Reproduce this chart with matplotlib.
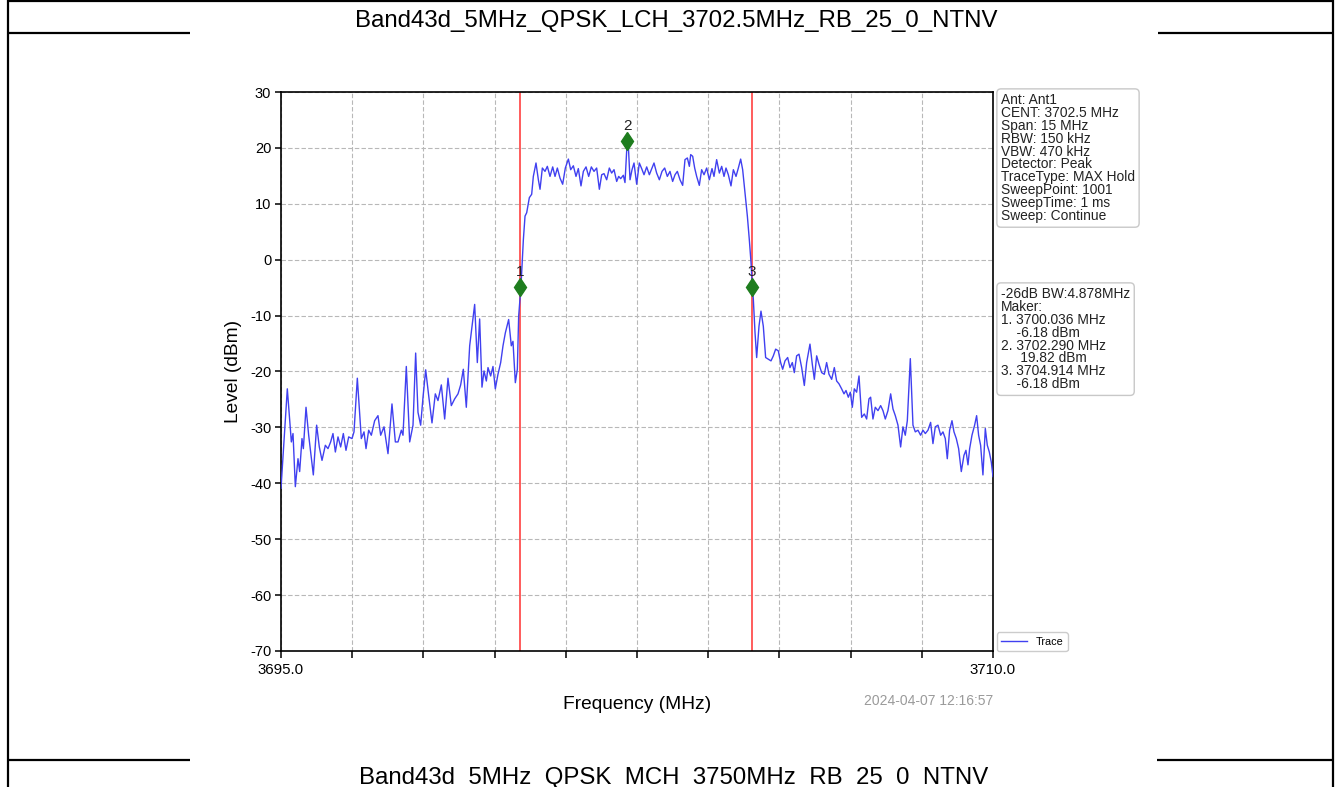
import matplotlib
matplotlib.use("Agg")
import matplotlib.pyplot as plt
from matplotlib.lines import Line2D

plt.rcParams['font.family'] = ['Liberation Sans', 'DejaVu Sans']
plt.rcParams['axes.unicode_minus'] = False

# ---------------- data ----------------
title_top = "Band43d_5MHz_QPSK_LCH_3702.5MHz_RB_25_0_NTNV"
title_bottom = "Band43d_5MHz_QPSK_MCH_3750MHz_RB_25_0_NTNV"

# lower adjacent region (MHz, dBm)
low_freq = [3695.000, 3695.133, 3695.218, 3695.253, 3695.302, 3695.358, 3695.393, 3695.442,
            3695.471, 3695.527, 3695.583, 3695.681, 3695.751, 3695.807, 3695.864, 3695.934,
            3695.990, 3696.046, 3696.095, 3696.145, 3696.201, 3696.257, 3696.313, 3696.369,
            3696.426, 3696.496, 3696.538, 3696.608, 3696.692, 3696.749, 3696.791, 3696.847,
            3696.903, 3696.973, 3697.043, 3697.100, 3697.170, 3697.254, 3697.338, 3697.409,
            3697.465, 3697.535, 3697.570, 3697.640, 3697.711, 3697.781, 3697.837, 3697.886,
            3697.942, 3697.992, 3698.048, 3698.111, 3698.181, 3698.251, 3698.307, 3698.378,
            3698.448, 3698.518, 3698.588, 3698.659, 3698.729, 3698.785, 3698.841, 3698.904,
            3698.975, 3699.024, 3699.080, 3699.136, 3699.185, 3699.234, 3699.277, 3699.326,
            3699.361, 3699.417, 3699.466, 3699.515, 3699.571, 3699.628, 3699.677, 3699.726,
            3699.796, 3699.852, 3699.887, 3699.937, 3699.979, 3700.007]
low_level = [-40.9, -23.1, -32.6, -31.1, -40.6, -35.6, -37.9, -32.0,
             -33.8, -26.4, -31.4, -38.5, -29.6, -33.5, -35.9, -33.2,
             -33.8, -32.6, -31.1, -34.4, -31.7, -33.5, -31.1, -34.1,
             -31.7, -32.0, -30.8, -21.2, -32.0, -30.8, -33.8, -30.5,
             -31.4, -28.8, -27.9, -31.4, -29.9, -34.7, -25.8, -32.6,
             -32.6, -30.5, -31.4, -19.1, -32.6, -29.6, -16.7, -27.3,
             -29.6, -24.6, -19.7, -24.3, -29.2, -24.0, -25.2, -22.4,
             -28.5, -21.2, -26.1, -24.9, -24.0, -22.4, -19.6, -26.4,
             -15.4, -11.9, -8.0, -18.4, -10.6, -22.8, -19.9, -21.7,
             -19.3, -20.8, -19.1, -23.1, -20.5, -18.4, -15.4, -13.1,
             -10.7, -15.4, -14.6, -22.0, -19.6, -10.1]

# occupied channel
mid_freq = [3700.056, 3700.106, 3700.141, 3700.176, 3700.232, 3700.281, 3700.316, 3700.372,
            3700.422, 3700.457, 3700.506, 3700.562, 3700.611, 3700.667, 3700.724, 3700.773,
            3700.822, 3700.878, 3700.934, 3700.990, 3701.054, 3701.103, 3701.159, 3701.215,
            3701.264, 3701.320, 3701.370, 3701.426, 3701.482, 3701.538, 3701.594, 3701.650,
            3701.707, 3701.756, 3701.805, 3701.861, 3701.917, 3701.966, 3702.016, 3702.072,
            3702.114, 3702.156, 3702.212, 3702.247, 3702.282, 3702.311, 3702.353, 3702.395,
            3702.437, 3702.493, 3702.549, 3702.598, 3702.648, 3702.704, 3702.760, 3702.816,
            3702.858, 3702.914, 3702.971, 3703.027, 3703.083, 3703.139, 3703.195, 3703.251,
            3703.301, 3703.350, 3703.406, 3703.462, 3703.511, 3703.561, 3703.603, 3703.631,
            3703.673, 3703.715, 3703.757, 3703.813, 3703.862, 3703.912, 3703.968, 3704.024,
            3704.080, 3704.122, 3704.178, 3704.235, 3704.284, 3704.333, 3704.375, 3704.424,
            3704.480, 3704.530, 3704.586, 3704.635, 3704.684, 3704.726, 3704.775, 3704.825,
            3704.866, 3704.902, 3704.930, 3704.951, 3704.986]
mid_level = [-4.7, 3.6, 7.8, 8.4, 11.1, 11.7, 14.9, 17.3,
             14.3, 12.6, 16.4, 15.8, 16.7, 14.9, 16.6, 14.9,
             16.4, 14.6, 13.5, 16.4, 18.0, 16.1, 16.8, 14.9,
             16.3, 13.2, 15.8, 16.6, 14.9, 16.6, 15.8, 16.4,
             12.6, 15.2, 15.4, 14.3, 16.4, 15.5, 16.1, 14.0,
             14.9, 14.5, 15.1, 13.8, 19.4, 21.5, 14.3, 16.1,
             17.3, 13.5, 17.3, 16.3, 15.2, 16.6, 15.2, 16.4,
             17.3, 15.5, 14.3, 15.8, 16.4, 14.9, 15.8, 14.0,
             15.2, 15.8, 14.3, 13.3, 17.9, 18.2, 16.7, 18.8,
             18.5, 16.4, 14.9, 13.3, 16.1, 15.2, 16.4, 14.3,
             16.3, 14.9, 17.9, 15.5, 16.7, 14.9, 16.4, 15.2,
             13.2, 16.1, 14.9, 16.4, 18.0, 16.1, 12.0, 7.8,
             3.6, -0.5, -4.7, -7.1, -13.0]

# upper adjacent region
high_freq = [3705.021, 3705.070, 3705.112, 3705.161, 3705.210, 3705.267, 3705.323, 3705.372,
             3705.421, 3705.477, 3705.526, 3705.569, 3705.618, 3705.674, 3705.723, 3705.772,
             3705.814, 3705.863, 3705.913, 3705.969, 3706.025, 3706.074, 3706.144, 3706.193,
             3706.236, 3706.285, 3706.334, 3706.390, 3706.446, 3706.495, 3706.545, 3706.601,
             3706.657, 3706.706, 3706.755, 3706.811, 3706.861, 3706.903, 3706.952, 3706.994,
             3707.036, 3707.078, 3707.127, 3707.177, 3707.233, 3707.289, 3707.338, 3707.387,
             3707.422, 3707.471, 3707.520, 3707.577, 3707.633, 3707.682, 3707.731, 3707.787,
             3707.844, 3707.893, 3707.942, 3707.998, 3708.054, 3708.103, 3708.152, 3708.195,
             3708.258, 3708.314, 3708.363, 3708.419, 3708.475, 3708.525, 3708.574, 3708.630,
             3708.686, 3708.735, 3708.784, 3708.841, 3708.897, 3708.946, 3708.995, 3709.037,
             3709.086, 3709.136, 3709.178, 3709.227, 3709.276, 3709.332, 3709.388, 3709.430,
             3709.473, 3709.508, 3709.557, 3709.613, 3709.655, 3709.697, 3709.739, 3709.788,
             3709.838, 3709.880, 3709.922, 3709.964, 3710.000]
high_level = [-17.5, -11.9, -9.2, -11.9, -17.5, -17.8, -18.1, -17.2,
              -16.0, -16.3, -18.4, -19.6, -18.1, -17.5, -19.3, -18.4,
              -20.2, -17.2, -16.9, -19.3, -22.5, -18.4, -15.1, -18.7,
              -21.4, -17.2, -18.7, -20.2, -20.5, -18.4, -20.5, -21.4,
              -19.3, -21.7, -22.2, -23.1, -24.0, -23.4, -24.6, -23.7,
              -26.4, -23.1, -23.7, -20.8, -28.2, -27.6, -28.5, -24.9,
              -24.6, -28.5, -26.4, -27.0, -26.1, -27.0, -28.5, -27.0,
              -24.0, -26.7, -27.9, -29.6, -33.5, -29.9, -31.4, -28.8,
              -17.7, -29.6, -30.8, -30.5, -31.4, -30.5, -31.1, -30.5,
              -29.1, -32.9, -29.9, -29.6, -31.4, -30.8, -32.0, -35.6,
              -30.5, -28.8, -30.8, -32.0, -33.8, -37.9, -35.0, -34.1,
              -36.7, -33.8, -31.4, -29.6, -27.9, -31.4, -33.2, -38.5,
              -30.2, -33.2, -34.4, -36.2, -38.8]

marker_names = ['1', '2', '3']
marker_freq = [3700.036, 3702.290, 3704.914]
marker_level = [-4.9, 21.2, -4.9]

x_ticks = [3695.0, 3696.5, 3698.0, 3699.5, 3701.0, 3702.5, 3704.0, 3705.5, 3707.0, 3708.5, 3710.0]
x_tick_labels = ['3695.0', '', '', '', '', '', '', '', '', '', '3710.0']
y_ticks = [30, 20, 10, 0, -10, -20, -30, -40, -50, -60, -70]

info_lines = ["Ant: Ant1", "CENT: 3702.5 MHz", "Span: 15 MHz", "RBW: 150 kHz",
              "VBW: 470 kHz", "Detector: Peak", "TraceType: MAX Hold",
              "SweepPoint: 1001", "SweepTime: 1 ms", "Sweep: Continue"]
marker_lines = ["-26dB BW:4.878MHz", "Maker:", "1. 3700.036 MHz", "    -6.18 dBm",
                "2. 3702.290 MHz", "     19.82 dBm", "3. 3704.914 MHz", "    -6.18 dBm"]
timestamp = "2024-04-07 12:16:57"

# ---------------- figure ----------------
W, H = 1340, 787
fig = plt.figure(figsize=(W / 100, H / 100), dpi=100)
fig.patch.set_facecolor('white')

def fx(px):
    return px / W

def fy(py):
    return 1 - py / H

# table borders of the document page
border_kw = dict(color='black', lw=1.6, transform=fig.transFigure, solid_capstyle='butt')
for seg in [((8, 8), (0, 787)), ((1333, 1333), (0, 787)), ((8, 1333), (1, 1)),
            ((8, 190), (33, 33)), ((1158, 1333), (33, 33)),
            ((8, 190), (760, 760)), ((1157, 1333), (760, 760))]:
    xs, ys = seg
    fig.add_artist(Line2D([fx(xs[0]), fx(xs[1])], [fy(ys[0]), fy(ys[1])], **border_kw))

fig.text(fx(676), fy(27), title_top, ha='center', va='baseline', fontsize=17.3)
fig.text(fx(674), fy(784), title_bottom, ha='center', va='baseline', fontsize=17.3)

ax = fig.add_axes([fx(281), fy(651), (993 - 281) / W, (651 - 92) / H])
ax.set_xlim(3695.0, 3710.0)
ax.set_ylim(-70, 30)

ax.grid(True, color='#b8b8b8', ls=(0, (4, 2)), lw=0.8)
ax.set_axisbelow(True)

freq = low_freq + mid_freq + high_freq
level = low_level + mid_level + high_level
ax.plot(freq, level, color='#4040f0', lw=1.0, label='Trace', zorder=3)

for f in (marker_freq[0], marker_freq[2]):
    ax.axvline(f, color='#ff5c5c', lw=1.4, zorder=2)

ax.plot(marker_freq, marker_level, ls='none', marker='d', ms=9.5,
        color='#1e7d1e', mec='#1e7d1e', zorder=4)
for name, f, l in zip(marker_names, marker_freq, marker_level):
    ax.annotate(name, (f, l), xytext=(0, 6), textcoords='offset points',
                ha='center', va='bottom', fontsize=11, color='#222222', zorder=5)

ax.set_xticks(x_ticks)
ax.set_xticklabels(x_tick_labels)
ax.set_yticks(y_ticks)
ax.tick_params(axis='x', direction='out', length=5, width=1.1, labelsize=10.8, pad=4)
ax.tick_params(axis='y', direction='out', length=4, width=1.1, labelsize=10.5, pad=3)
for s in ax.spines.values():
    s.set_color('black')
    s.set_linewidth(1.2)

ax.set_xlabel('Frequency (MHz)', fontsize=13.8, labelpad=13)
ax.set_ylabel('Level (dBm)', fontsize=13.8, labelpad=6)

ax.legend(loc='lower left', bbox_to_anchor=(1.005, 0.0), borderaxespad=0,
          fontsize=7.8, handlelength=2.4, frameon=True, fancybox=True,
          edgecolor='#cccccc', framealpha=1)

box_kw = dict(boxstyle='round,pad=0.3', fc='white', ec='#c8c8c8', lw=1.0)
fig.text(fx(1001), fy(93), "\n".join(info_lines), ha='left', va='top',
         fontsize=9.9, linespacing=0.9, color='#222222', bbox=box_kw)
fig.text(fx(1001), fy(287), "\n".join(marker_lines), ha='left', va='top',
         fontsize=9.9, linespacing=0.9, color='#222222', bbox=box_kw)

fig.text(fx(993), fy(701), timestamp, ha='right', va='center', fontsize=10,
         color='#9a9a9a')

fig.savefig('out.png', dpi=100, facecolor='white')
